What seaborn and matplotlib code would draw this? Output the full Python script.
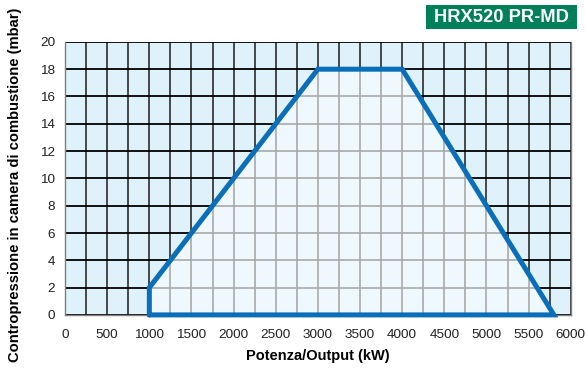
import numpy as np
import pandas as pd
import seaborn as sns
import matplotlib
matplotlib.use("Agg")
import matplotlib.pyplot as plt
from matplotlib.patches import Polygon, Rectangle

# Working field of the burner: output (kW) vs. combustion chamber back-pressure (mbar)
output_kw = [1000, 1000, 3000, 4000, 5800, 1000]
pressure_mbar = [0, 2, 18, 18, 0, 0]

x_ticks = [0, 500, 1000, 1500, 2000, 2500, 3000, 3500, 4000, 4500, 5000, 5500, 6000]
y_ticks = [0, 2, 4, 6, 8, 10, 12, 14, 16, 18, 20]
model_name = "HRX520 PR-MD"
x_label = "Potenza/Output (kW)"
y_label = "Contropressione in camera di combustione (mbar)"

sns.set_theme(style="white")
plt.rcParams["font.family"] = ["Liberation Sans", "DejaVu Sans"]

field = pd.DataFrame({"kw": output_kw, "mbar": pressure_mbar})

fig = plt.figure(figsize=(5.86, 3.74), dpi=100)
ax = fig.add_axes([0.111, 0.158, 0.863, 0.73])
ax.set_facecolor("#dff1fb")
ax.set_xlim(0, 6000)
ax.set_ylim(0, 20)

# Outer grid: dark lines every 250 kW and every 2 mbar
minor_x = np.arange(0, 6001, 250)
ax.vlines(minor_x, 0, 20, colors="#1a1a1a", linewidth=1.1, zorder=1)
ax.hlines(y_ticks, 0, 6000, colors="#000000", linewidth=1.3, zorder=1)

# Inside the working field: pale fill with grey grid
poly = Polygon(np.column_stack([output_kw, pressure_mbar]), closed=True,
               facecolor="#eff8fd", edgecolor="none", zorder=2)
ax.add_patch(poly)
vl = ax.vlines(minor_x, 0, 20, colors="#a9a9a9", linewidth=1.2, zorder=3)
hl = ax.hlines(y_ticks, 0, 6000, colors="#a9a9a9", linewidth=1.2, zorder=3)
vl.set_clip_path(poly)
hl.set_clip_path(poly)

sns.lineplot(data=field, x="kw", y="mbar", sort=False, estimator=None,
             color="#0a6fb8", linewidth=3.6, ax=ax, zorder=5)
ax.lines[-1].set_solid_joinstyle("miter")
ax.lines[-1].set_clip_on(False)

ax.set_xticks(x_ticks)
ax.set_yticks(y_ticks)
ax.tick_params(axis="both", direction="out", length=4, width=1, color="black",
               labelsize=9.7, labelcolor="#222222", pad=3)
ax.tick_params(axis="x", pad=6)
for side in ["left", "right", "bottom"]:
    ax.spines[side].set_visible(True)
    ax.spines[side].set_color("#808080")
    ax.spines[side].set_linewidth(1)
ax.spines["top"].set_visible(False)

ax.set_xlabel(x_label, fontsize=10.5, fontweight="bold", color="black")
ax.set_ylabel(y_label, fontsize=10.6, fontweight="bold", color="black")
ax.xaxis.set_label_coords(0.5, -0.125)
ax.yaxis.set_label_coords(-0.085, 0.475)

# Model badge
fig.patches.append(Rectangle((426 / 586, 1 - 29 / 374), 151 / 586, 24 / 374,
                             transform=fig.transFigure, facecolor="#00805a",
                             edgecolor="none"))
fig.text(501 / 586, 1 - 17.5 / 374, model_name, color="white", fontsize=13.2,
         fontweight="bold", ha="center", va="center")

fig.savefig("out.png", dpi=100)
